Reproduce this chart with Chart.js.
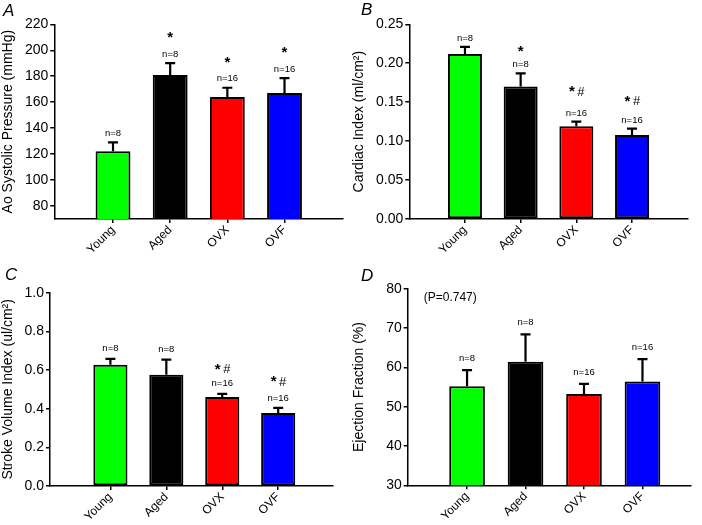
<!DOCTYPE html>
<html lang="en">
<head>
    <meta charset="UTF-8">
    <title>Ao pressure / cardiac function by group</title>
    <script src="https://cdn.jsdelivr.net/npm/chart.js"></script>
    <style>
        body { margin: 0; background: #fff; }
        #wrap { position: relative; width: 702px; height: 525px; }
        canvas { position: absolute; }
    </style>
</head>
<body>
<div id="wrap">
    <canvas id="panelA" width="351" height="262" style="left:0;top:0"></canvas>
    <canvas id="panelB" width="351" height="262" style="left:351px;top:0"></canvas>
    <canvas id="panelC" width="351" height="263" style="left:0;top:262px"></canvas>
    <canvas id="panelD" width="351" height="263" style="left:351px;top:262px"></canvas>
</div>
<script>
    // groups and sample sizes
    const groups = ['Young', 'Aged', 'OVX', 'OVF'];
    const groupN = ['n=8', 'n=8', 'n=16', 'n=16'];
    const barColors = ['#00ff00', '#000000', '#ff0000', '#0000ff'];

    // A - aortic systolic pressure (mmHg), mean and SEM
    const aoSystolic = [122.2, 180.9, 163.9, 167.0];
    const aoSystolicSem = [6.8, 9.2, 7.2, 11.6];
    const sigA = ['', '*', '*', '*'];
    const ticksA = [80, 100, 120, 140, 160, 180, 200, 220];

    // B - cardiac index (ml/cm2)
    const cardiacIndex = [0.212, 0.170, 0.119, 0.108];
    const cardiacIndexSem = [0.009, 0.017, 0.006, 0.008];
    const sigB = ['', '*', '*#', '*#'];
    const ticksB = [0, 0.05, 0.10, 0.15, 0.20, 0.25];

    // C - stroke volume index (ul/cm2)
    const strokeVolIndex = [0.627, 0.576, 0.460, 0.378];
    const strokeVolIndexSem = [0.031, 0.078, 0.017, 0.026];
    const sigC = ['', '', '*#', '*#'];
    const ticksC = [0, 0.2, 0.4, 0.6, 0.8, 1.0];

    // D - ejection fraction (%)
    const ejectionFraction = [55.2, 61.4, 53.2, 56.4];
    const ejectionFractionSem = [4.1, 7.0, 2.6, 5.7];
    const sigD = ['', '', '', ''];
    const ticksD = [30, 40, 50, 60, 70, 80];

    const FONT = "'Liberation Sans', Arial, sans-serif";

    function drawStar(ctx, x, cy) {
        ctx.font = 'bold 15px ' + FONT;
        ctx.textBaseline = 'alphabetic';
        ctx.fillText('*', x, cy + 5);
    }

    // draws SEM bars, n= labels, significance marks, panel letter, extra note
    const annotatePlugin = {
        id: 'annotate',
        afterDatasetsDraw(chart) {
            const p = chart.options.plugins.annotate;
            const ctx = chart.ctx;
            const ys = chart.scales.y;
            const meta = chart.getDatasetMeta(0);
            ctx.save();
            ctx.strokeStyle = '#000';
            ctx.fillStyle = '#000';
            ctx.lineWidth = 2.2;
            meta.data.forEach((bar, i) => {
                const top = ys.getPixelForValue(p.values[i] + p.sem[i]);
                ctx.beginPath();
                ctx.moveTo(bar.x, bar.y);
                ctx.lineTo(bar.x, top);
                ctx.moveTo(bar.x - 5, top);
                ctx.lineTo(bar.x + 5, top);
                ctx.stroke();

                ctx.textAlign = 'center';
                ctx.textBaseline = 'middle';
                ctx.font = '9.5px ' + FONT;
                const ny = top - p.nGap;
                ctx.fillText(groupN[i], bar.x, ny);
                const s = p.sig[i];
                if (s) {
                    const sy = ny - p.sigGap[i];
                    if (s === '*') {
                        drawStar(ctx, bar.x, sy);
                    } else {
                        drawStar(ctx, bar.x - 4.5, sy);
                        ctx.font = '13px ' + FONT;
                        ctx.fillText('#', bar.x + 4.5, sy + 4.7);
                    }
                }
            });
            ctx.textAlign = 'left';
            ctx.textBaseline = 'alphabetic';
            ctx.font = 'italic 17px ' + FONT;
            ctx.fillText(p.letter, p.letterX, p.letterY);
            if (p.note) {
                ctx.font = '12px ' + FONT;
                ctx.textBaseline = 'middle';
                ctx.fillText(p.note, chart.chartArea.left + 16, chart.chartArea.top + 9);
            }
            ctx.restore();
        }
    };

    function makePanel(id, cfg) {
        const canvas = document.getElementById(id);
        const W = canvas.width, H = canvas.height;
        return new Chart(canvas.getContext('2d'), {
            type: 'bar',
            data: {
                datasets: [{
                    data: cfg.values.map((v, i) => ({ x: i, y: v })),
                    backgroundColor: barColors,
                    borderColor: '#000',
                    borderWidth: 2,
                    borderSkipped: false,
                    barPercentage: 0.61,
                    categoryPercentage: 1
                }]
            },
            plugins: [annotatePlugin],
            options: {
                responsive: false,
                animation: false,
                layout: { padding: { left: 0, top: cfg.top, right: W - cfg.right, bottom: 0 } },
                plugins: {
                    legend: { display: false },
                    tooltip: { enabled: false },
                    annotate: {
                        values: cfg.values, sem: cfg.sem, sig: cfg.sig,
                        nGap: cfg.nGap, sigGap: cfg.sigGap,
                        letter: cfg.letter, letterX: cfg.letterX, letterY: cfg.letterY,
                        note: cfg.note
                    }
                },
                scales: {
                    x: {
                        type: 'linear',
                        offset: false,
                        min: cfg.xMin,
                        max: cfg.xMax,
                        afterBuildTicks: s => { s.ticks = groups.map((g, i) => ({ value: i })); },
                        afterFit: s => { s.height = H - cfg.bottom; },
                        grid: { offset: false, drawOnChartArea: false, drawTicks: true, tickLength: 4, color: '#000', lineWidth: 1.5 },
                        border: { color: '#000', width: 1.5 },
                        ticks: {
                            callback: v => groups[v],
                            autoSkip: false,
                            minRotation: 45,
                            maxRotation: 45,
                            padding: 0,
                            color: '#000',
                            font: { family: FONT, size: 12 }
                        }
                    },
                    y: {
                        min: cfg.yMin,
                        max: cfg.yMax,
                        afterBuildTicks: s => { s.ticks = cfg.ticks.map(v => ({ value: v })); },
                        afterFit: s => { s.width = cfg.left; },
                        grid: { drawOnChartArea: false, drawTicks: true, tickLength: 4, color: '#000', lineWidth: 1.5 },
                        border: { color: '#000', width: 1.5 },
                        title: {
                            display: true,
                            text: cfg.title,
                            color: '#000',
                            padding: 0,
                            font: { family: FONT, size: 14 }
                        },
                        ticks: {
                            callback: v => v.toFixed(cfg.decimals),
                            padding: 2,
                            color: '#000',
                            font: { family: FONT, size: 14 }
                        }
                    }
                }
            }
        });
    }

    makePanel('panelA', {
        values: aoSystolic, sem: aoSystolicSem, sig: sigA, ticks: ticksA,
        yMin: 70, yMax: 220, decimals: 0, title: 'Ao Systolic Pressure (mmHg)',
        left: 54.3, top: 24.3, bottom: 219, right: 343, xMin: -1.027, xMax: 4.023,
        nGap: 9, sigGap: [0, 17, 17, 17], letter: 'A', letterX: 3, letterY: 16
    });
    makePanel('panelB', {
        values: cardiacIndex, sem: cardiacIndexSem, sig: sigB, ticks: ticksB,
        yMin: 0, yMax: 0.25, decimals: 2, title: 'Cardiac Index (ml/cm²)',
        left: 58.3, top: 24.3, bottom: 219, right: 336.7, xMin: -1.0, xMax: 4.0,
        nGap: 8.5, sigGap: [0, 14, 22, 19.5], letter: 'B', letterX: 10, letterY: 15
    });
    makePanel('panelC', {
        values: strokeVolIndex, sem: strokeVolIndexSem, sig: sigC, ticks: ticksC,
        yMin: 0, yMax: 1.0, decimals: 1, title: 'Stroke Volume Index (ul/cm²)',
        left: 50, top: 30.7, bottom: 224, right: 333, xMin: -1.08, xMax: 3.98,
        nGap: 10, sigGap: [0, 0, 15, 16.5], letter: 'C', letterX: 5, letterY: 18
    });
    makePanel('panelD', {
        values: ejectionFraction, sem: ejectionFractionSem, sig: sigD, ticks: ticksD,
        yMin: 30, yMax: 80, decimals: 0, title: 'Ejection Fraction (%)',
        left: 56.7, top: 26.7, bottom: 223.3, right: 340, xMin: -1.015, xMax: 3.83,
        nGap: 11.5, sigGap: [0, 0, 0, 0], letter: 'D', letterX: 10, letterY: 19, note: '(P=0.747)'
    });
</script>
</body>
</html>
